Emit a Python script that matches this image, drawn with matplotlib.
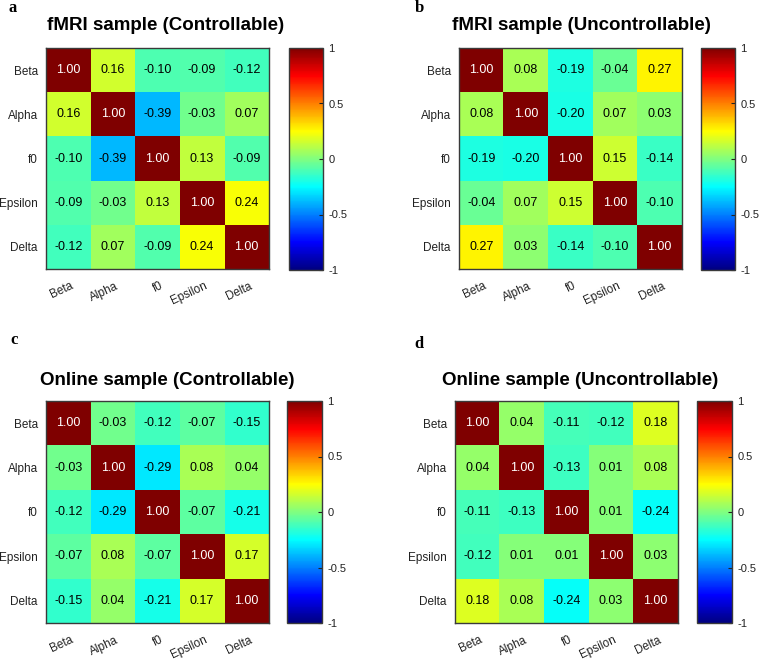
import numpy as np
import matplotlib
matplotlib.use("Agg")
import matplotlib.pyplot as plt
from matplotlib import colors

plt.rcParams['font.family'] = ['Liberation Sans', 'DejaVu Sans']

labels = ["Beta", "Alpha", "f0", "Epsilon", "Delta"]

fmri_ctrl = [
    [1.00, 0.16, -0.10, -0.09, -0.12],
    [0.16, 1.00, -0.39, -0.03, 0.07],
    [-0.10, -0.39, 1.00, 0.13, -0.09],
    [-0.09, -0.03, 0.13, 1.00, 0.24],
    [-0.12, 0.07, -0.09, 0.24, 1.00],
]
fmri_unctrl = [
    [1.00, 0.08, -0.19, -0.04, 0.27],
    [0.08, 1.00, -0.20, 0.07, 0.03],
    [-0.19, -0.20, 1.00, 0.15, -0.14],
    [-0.04, 0.07, 0.15, 1.00, -0.10],
    [0.27, 0.03, -0.14, -0.10, 1.00],
]
online_ctrl = [
    [1.00, -0.03, -0.12, -0.07, -0.15],
    [-0.03, 1.00, -0.29, 0.08, 0.04],
    [-0.12, -0.29, 1.00, -0.07, -0.21],
    [-0.07, 0.08, -0.07, 1.00, 0.17],
    [-0.15, 0.04, -0.21, 0.17, 1.00],
]
online_unctrl = [
    [1.00, 0.04, -0.11, -0.12, 0.18],
    [0.04, 1.00, -0.13, 0.01, 0.08],
    [-0.11, -0.13, 1.00, 0.01, -0.24],
    [-0.12, 0.01, 0.01, 1.00, 0.03],
    [0.18, 0.08, -0.24, 0.03, 1.00],
]
titles = ["fMRI sample (Controllable)", "fMRI sample (Uncontrollable)",
          "Online sample (Controllable)", "Online sample (Uncontrollable)"]
panel_letters = ["a", "b", "c", "d"]
cbar_ticks = [-1, -0.5, 0, 0.5, 1]
cbar_ticklabels = ["-1", "-0.5", "0", "0.5", "1"]

W, H = 760, 660
fig = plt.figure(figsize=(W / 100, H / 100), dpi=100)


def px_axes(x0, y0, x1, y1):
    return fig.add_axes([x0 / W, 1 - y1 / H, (x1 - x0) / W, (y1 - y0) / H])


panels = [
    dict(data=fmri_ctrl, ax=(46, 48, 269, 269), cb=(289, 48, 323, 270),
         title=(166, 26), letter=(13, 8)),
    dict(data=fmri_unctrl, ax=(459, 48, 682, 269), cb=(701, 48, 735, 270),
         title=(581, 26), letter=(419, 8)),
    dict(data=online_ctrl, ax=(46, 401, 269, 623), cb=(287, 401, 322, 623),
         title=(167, 380), letter=(14, 340)),
    dict(data=online_unctrl, ax=(455, 401, 678, 623), cb=(697, 401, 732, 623),
         title=(580, 380), letter=(419, 344)),
]

# MATLAB-style jet
matlab_jet = colors.LinearSegmentedColormap('matlab_jet', {
    'red':   [(0, 0, 0), (0.375, 0, 0), (0.625, 1, 1), (0.875, 1, 1), (1, 0.5, 0.5)],
    'green': [(0, 0, 0), (0.125, 0, 0), (0.375, 1, 1), (0.625, 1, 1), (0.875, 0, 0), (1, 0, 0)],
    'blue':  [(0, 0.5, 0.5), (0.125, 1, 1), (0.375, 1, 1), (0.625, 0, 0), (1, 0, 0)],
}, N=256)

norm = colors.Normalize(vmin=-1, vmax=1)
cmap = matlab_jet
edge = '#3a3a3a'

for i, p in enumerate(panels):
    data = np.array(p['data'])
    ax = px_axes(*p['ax'])
    ax.imshow(data, cmap=cmap, norm=norm, aspect='auto', interpolation='nearest')
    n = len(labels)
    for r in range(n):
        for c in range(n):
            v = data[r, c]
            ax.text(c, r, f"{v:.2f}", ha='center', va='center', fontsize=9,
                    color='white' if v > 0.9 else 'black')
    ax.set_xticks(np.arange(n) + 0.16)
    ax.set_yticks(range(n))
    ax.set_xticklabels(labels, rotation=25, ha='right', fontsize=8.5, color='#222222')
    ax.set_yticklabels(labels, fontsize=8.5, color='#222222')
    ax.set_xlim(-0.5, n - 0.5)
    ax.tick_params(length=0, pad=6)
    ax.tick_params(axis='x', pad=8)
    for s in ax.spines.values():
        s.set_color(edge)
        s.set_linewidth(1.0)

    cax = px_axes(*p['cb'])
    cb = matplotlib.colorbar.ColorbarBase(cax, cmap=cmap, norm=norm, ticks=cbar_ticks)
    cb.ax.set_yticklabels(cbar_ticklabels)
    cb.ax.tick_params(labelsize=8, direction='in', length=3, width=0.8,
                      colors='#222222', pad=4)
    cb.outline.set_edgecolor(edge)
    cb.outline.set_linewidth(1.0)

    tx, ty = p['title']
    fig.text(tx / W, 1 - ty / H, titles[i], ha='center', va='center',
             fontsize=13.5, fontweight='bold', color='black')
    lx, ly = p['letter']
    fig.text(lx / W, 1 - ly / H, panel_letters[i], ha='center', va='center',
             fontsize=12, fontweight='bold', family='Liberation Serif')

fig.savefig("out.png", dpi=100)
